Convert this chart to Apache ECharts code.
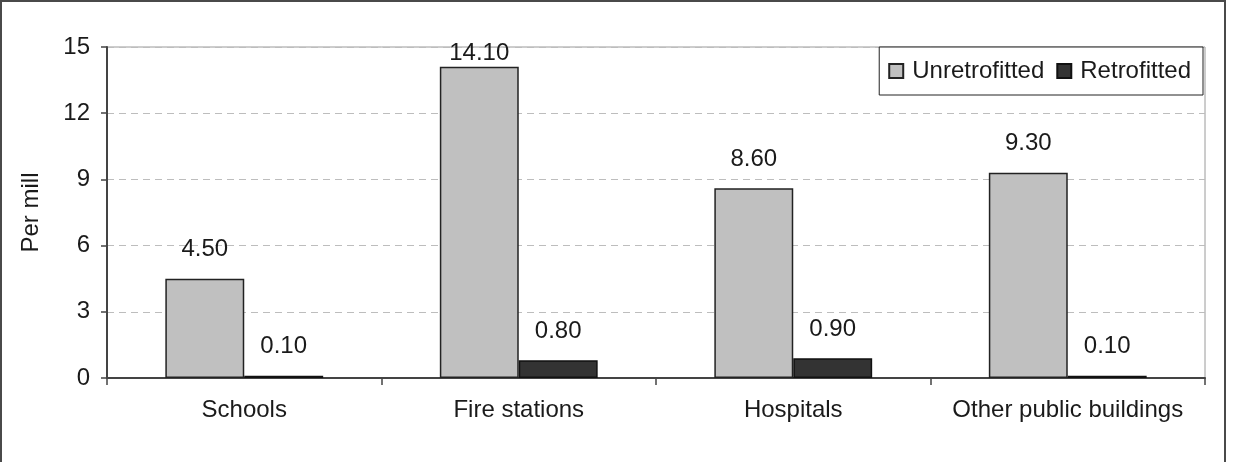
<!DOCTYPE html>
<html>
<head>
<meta charset="utf-8">
<script src="https://cdn.jsdelivr.net/npm/echarts@6/dist/echarts.min.js"></script>
<style>
  html, body { margin: 0; padding: 0; background: #fff; }
  #chart { width: 1240px; height: 462px; }
</style>
</head>
<body>
<div id="chart"></div>
<script>
var chart = echarts.init(document.getElementById('chart'));

// data
var categories = ['Schools', 'Fire stations', 'Hospitals', 'Other public buildings'];
var unretrofitted = [4.5, 14.1, 8.6, 9.3];
var retrofitted = [0.1, 0.8, 0.9, 0.1];
var yTicks = [0, 3, 6, 9, 12, 15];

var FONT = "'Liberation Sans', Arial, sans-serif";

// label above a bar, the tallest one sits closer (it touches the top of the plot)
function toItems(values) {
    return values.map(function (v) {
        if (v >= 14) {
            return { value: v, label: { distance: 1 } };
        }
        return v;
    });
}

var labelStyle = {
    show: true,
    position: 'top',
    distance: 17,
    fontSize: 24,
    fontFamily: FONT,
    color: '#1a1a1a',
    formatter: function (p) { return p.value.toFixed(2); }
};

var option = {
    animation: false,
    backgroundColor: '#fff',
    textStyle: { fontFamily: FONT },
    graphic: [{
        type: 'rect',
        shape: { x: 1, y: 1, width: 1224, height: 480 },
        style: { fill: 'none', stroke: '#4a4a4a', lineWidth: 2 },
        silent: true
    }],
    grid: {
        left: 107, right: 35, top: 47, bottom: 84,
        show: true,
        borderColor: '#9a9a9a',
        borderWidth: 1
    },
    legend: {
        right: 37,
        top: 47,
        itemWidth: 14,
        itemHeight: 14,
        itemGap: 12,
        padding: [12, 12, 12, 9],
        borderColor: '#222',
        borderWidth: 1,
        backgroundColor: '#fff',
        icon: 'rect',
        textStyle: { fontSize: 24, fontFamily: FONT, color: '#1a1a1a', padding: [0, 0, 0, 4] },
        data: ['Unretrofitted', 'Retrofitted']
    },
    xAxis: {
        type: 'category',
        data: categories,
        axisLine: { lineStyle: { color: '#444', width: 2 } },
        axisTick: { show: true, interval: 0, length: 7, lineStyle: { color: '#444', width: 1.5 } },
        axisLabel: { interval: 0, fontSize: 24, fontFamily: FONT, color: '#1a1a1a', margin: 20 },
        splitLine: { show: false }
    },
    yAxis: {
        type: 'value',
        min: yTicks[0],
        max: yTicks[yTicks.length - 1],
        interval: 3,
        name: 'Per mill',
        nameLocation: 'middle',
        nameRotate: 90,
        nameGap: 64,
        nameTextStyle: { fontSize: 24, fontFamily: FONT, color: '#1a1a1a' },
        axisLine: { show: true, lineStyle: { color: '#444', width: 2 } },
        axisTick: { show: true, length: 6, lineStyle: { color: '#444', width: 1.5 } },
        axisLabel: { fontSize: 24, fontFamily: FONT, color: '#1a1a1a', margin: 17 },
        splitLine: { show: true, lineStyle: { color: '#bdbdbd', type: [7, 5], width: 1.2 } }
    },
    series: [
        {
            name: 'Unretrofitted',
            type: 'bar',
            data: toItems(unretrofitted),
            barGap: '0%',
            barCategoryGap: '42.5%',
            itemStyle: { color: '#c0c0c0', borderColor: '#222', borderWidth: 1.5 },
            label: labelStyle
        },
        {
            name: 'Retrofitted',
            type: 'bar',
            data: toItems(retrofitted),
            barGap: '0%',
            barCategoryGap: '42.5%',
            itemStyle: { color: '#333333', borderColor: '#111', borderWidth: 1.5 },
            label: labelStyle
        }
    ]
};

chart.setOption(option);
</script>
</body>
</html>
